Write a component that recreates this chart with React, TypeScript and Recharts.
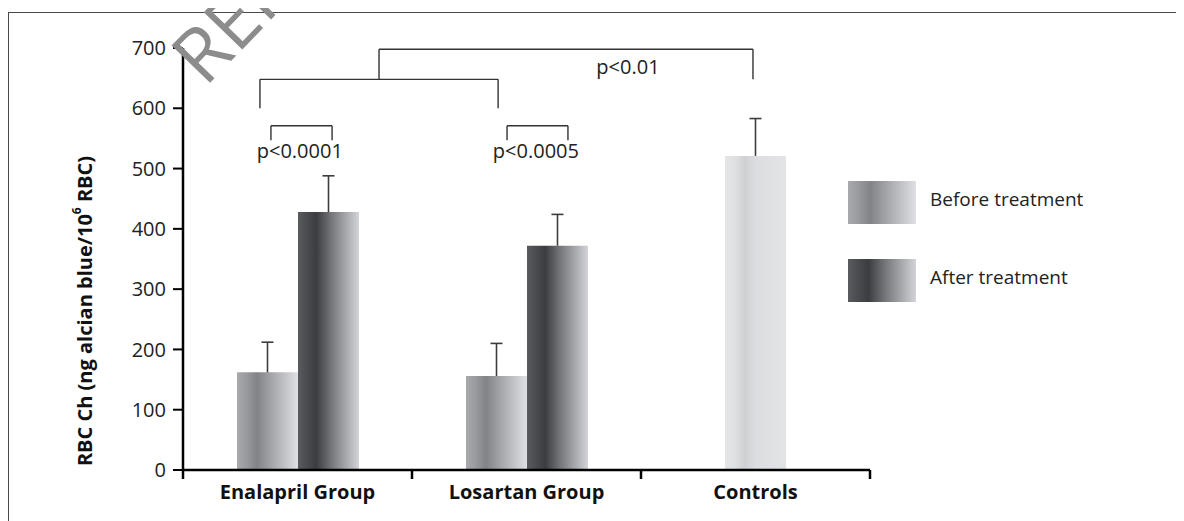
import React from 'react';
import { ComposedChart, Bar, XAxis, YAxis, ReferenceLine, ReferenceDot } from 'recharts';

// ---- data ----
const groups = ['Enalapril Group', 'Losartan Group', 'Controls'];
const groupPositions = [0.5, 1.5, 2.5];
const beforeValues = [162, 156, null];
const beforeErrors = [50, 54, null];
const afterValues = [428, 372, null];
const afterErrors = [60, 52, null];
const controlValues = [null, null, 521];
const controlErrors = [null, null, 62];

const yTicks = [0, 100, 200, 300, 400, 500, 600, 700];
const legendLabels = ['Before treatment', 'After treatment'];

// significance brackets in category units / y values
const bracketStarts = [0.856, 0.336, 0.384, 1.415];
const bracketEnds = [2.489, 1.376, 0.651, 1.681];
const bracketTops = [698, 648, 571, 571];
const bracketBottoms = [648, 600, 547, 547];
const pLabels = ['p<0.01', 'p<0.0001', 'p<0.0005'];
const pLabelX = [1.943, 0.51, 1.541];
const pLabelY = [668, 529, 529];

const data = groups.map((g, i) => ({
  group: g,
  pos: groupPositions[i],
  before: beforeValues[i],
  beforeErr: beforeErrors[i],
  after: afterValues[i],
  afterErr: afterErrors[i],
  control: controlValues[i],
  controlErr: controlErrors[i],
}));

const segments: { x: number; y: number }[][] = [];
bracketStarts.forEach((x1, i) => {
  const x2 = bracketEnds[i];
  const t = bracketTops[i];
  const b = bracketBottoms[i];
  segments.push([{ x: x1, y: t }, { x: x1, y: b }]);
  segments.push([{ x: x1, y: t }, { x: x2, y: t }]);
  segments.push([{ x: x2, y: t }, { x: x2, y: b }]);
});

const FONT = '"Open Sans", sans-serif';
const BEFORE_CSS = 'linear-gradient(to right, #a9aaad 0%, #9a9b9e 15%, #828387 33%, #a6a7aa 58%, #dfe0e3 100%)';
const AFTER_CSS = 'linear-gradient(to right, #5a5b5e 0%, #4a4b4e 15%, #3c3d40 30%, #76777a 55%, #d3d4d7 100%)';

const ErrorShape = (props: any) => {
  const { x, y, width, height, value } = props;
  if (value == null || height == null || !width || !isFinite(height) || Math.abs(height) < 0.5) return null;
  const cx = x + width / 2;
  return (
    <g>
      <line x1={cx} x2={cx} y1={y + height} y2={y} stroke="#3d3d3d" strokeWidth={1.6} />
      <line x1={cx - 6} x2={cx + 6} y1={y} y2={y} stroke="#3d3d3d" strokeWidth={1.6} />
    </g>
  );
};

const CategoryTick = (props: any) => {
  const { x, y, payload, index, width } = props;
  const half = payload && payload.offset > 0 ? payload.offset : width / (2 * groups.length);
  return (
    <g>
      <line x1={x - half} x2={x - half} y1={y} y2={y + 9} stroke="#000" strokeWidth={2.5} />
      {index === groups.length - 1 && (
        <line x1={x + half} x2={x + half} y1={y} y2={y + 9} stroke="#000" strokeWidth={2.5} />
      )}
      <text x={x} y={y + 29} textAnchor="middle" fontWeight={700} fontSize={20} fill="#111" fontFamily={FONT}>
        {payload.value}
      </text>
    </g>
  );
};

const YLabel = (props: any) => {
  const { viewBox } = props;
  const cx = viewBox.x - 24;
  const cy = viewBox.y + viewBox.height / 2 + 52;
  return (
    <text x={cx} y={cy} transform={`rotate(-90 ${cx} ${cy})`} textAnchor="middle" dominantBaseline="central"
      fontWeight={700} fontSize={20} fill="#111" fontFamily={FONT}>
      RBC Ch (ng alcian blue/10<tspan fontSize={12} dy={-8}>6</tspan><tspan dy={8}> RBC)</tspan>
    </text>
  );
};

export default function App() {
  return (
    <div style={{ position: 'relative', width: 1176, height: 513, fontFamily: FONT }}>
      <style>{'html,body{overflow:hidden}'}</style>
      <ComposedChart width={1176} height={513} data={data}
        margin={{ top: 40, right: 314, bottom: 0, left: 100 }} barGap={0}>
        <defs>
          <linearGradient id="gBefore" x1="0" y1="0" x2="1" y2="0">
            <stop offset="0%" stopColor="#a9aaad" />
            <stop offset="15%" stopColor="#9a9b9e" />
            <stop offset="33%" stopColor="#828387" />
            <stop offset="58%" stopColor="#a6a7aa" />
            <stop offset="100%" stopColor="#dfe0e3" />
          </linearGradient>
          <linearGradient id="gAfter" x1="0" y1="0" x2="1" y2="0">
            <stop offset="0%" stopColor="#5a5b5e" />
            <stop offset="15%" stopColor="#4a4b4e" />
            <stop offset="30%" stopColor="#3c3d40" />
            <stop offset="55%" stopColor="#76777a" />
            <stop offset="100%" stopColor="#d3d4d7" />
          </linearGradient>
          <linearGradient id="gCtrl" x1="0" y1="0" x2="1" y2="0">
            <stop offset="0%" stopColor="#e5e6e8" />
            <stop offset="18%" stopColor="#dedfe1" />
            <stop offset="32%" stopColor="#cfd0d2" />
            <stop offset="50%" stopColor="#dcdde0" />
            <stop offset="100%" stopColor="#e3e4e6" />
          </linearGradient>
        </defs>
        <XAxis xAxisId="main" dataKey="group" interval={0} height={51} tickSize={0} tickMargin={0} tickLine={false}
          axisLine={{ stroke: '#000', strokeWidth: 2.5 }} tick={<CategoryTick />} />
        <XAxis xAxisId="ctrl" dataKey="group" hide height={0} />
        <XAxis xAxisId="num" dataKey="pos" type="number" domain={[0, 3]} allowDataOverflow hide height={0} />
        <YAxis domain={[0, 700]} ticks={yTicks} interval={0} width={75} tickSize={10} tickMargin={7}
          axisLine={{ stroke: '#000', strokeWidth: 2.5 }} tickLine={{ stroke: '#000', strokeWidth: 2 }}
          tick={{ fill: '#222', fontSize: 20, fontFamily: FONT }} label={<YLabel />} />
        <Bar xAxisId="main" dataKey="before" stackId="b" barSize={61} fill="url(#gBefore)" isAnimationActive={false} />
        <Bar xAxisId="main" dataKey="beforeErr" stackId="b" barSize={61} shape={<ErrorShape />} isAnimationActive={false} />
        <Bar xAxisId="main" dataKey="after" stackId="a" barSize={61} fill="url(#gAfter)" isAnimationActive={false} />
        <Bar xAxisId="main" dataKey="afterErr" stackId="a" barSize={61} shape={<ErrorShape />} isAnimationActive={false} />
        <Bar xAxisId="ctrl" dataKey="control" stackId="c" barSize={61} fill="url(#gCtrl)" isAnimationActive={false} />
        <Bar xAxisId="ctrl" dataKey="controlErr" stackId="c" barSize={61} shape={<ErrorShape />} isAnimationActive={false} />
        {segments.map((seg, i) => (
          <ReferenceLine key={'s' + i} xAxisId="num" segment={seg} stroke="#333" strokeWidth={1.4} />
        ))}
        {pLabels.map((p, i) => (
          <ReferenceDot key={'p' + i} xAxisId="num" x={pLabelX[i]} y={pLabelY[i]} r={1} fill="none" stroke="none"
            label={{ value: p, position: 'center', fill: '#222', fontSize: 20, fontFamily: FONT }} />
        ))}
      </ComposedChart>
      <div style={{ position: 'absolute', left: 840, top: 173 }}>
        {legendLabels.map((lab, i) => (
          <div key={lab} style={{ display: 'flex', alignItems: 'center', height: 43, marginBottom: i === 0 ? 35 : 0 }}>
            <div style={{ width: 68, height: 43, background: i === 0 ? BEFORE_CSS : AFTER_CSS }} />
            <span style={{ marginLeft: 14, fontSize: 19, color: '#222', position: 'relative', top: -4 }}>{lab}</span>
          </div>
        ))}
      </div>
      <div style={{ position: 'absolute', left: 0, top: 4, width: 1174, height: 600, border: '1.5px solid #4a4a4a',
        boxSizing: 'border-box', pointerEvents: 'none' }} />
      <svg width={1176} height={513} style={{ position: 'absolute', left: 0, top: 0, overflow: 'visible', pointerEvents: 'none' }}>
        <text x={197} y={80} transform="rotate(-46 197 80)" fontSize={75} fill="#8c8c8c" fontFamily={FONT}>REFERENCE</text>
      </svg>
    </div>
  );
}
